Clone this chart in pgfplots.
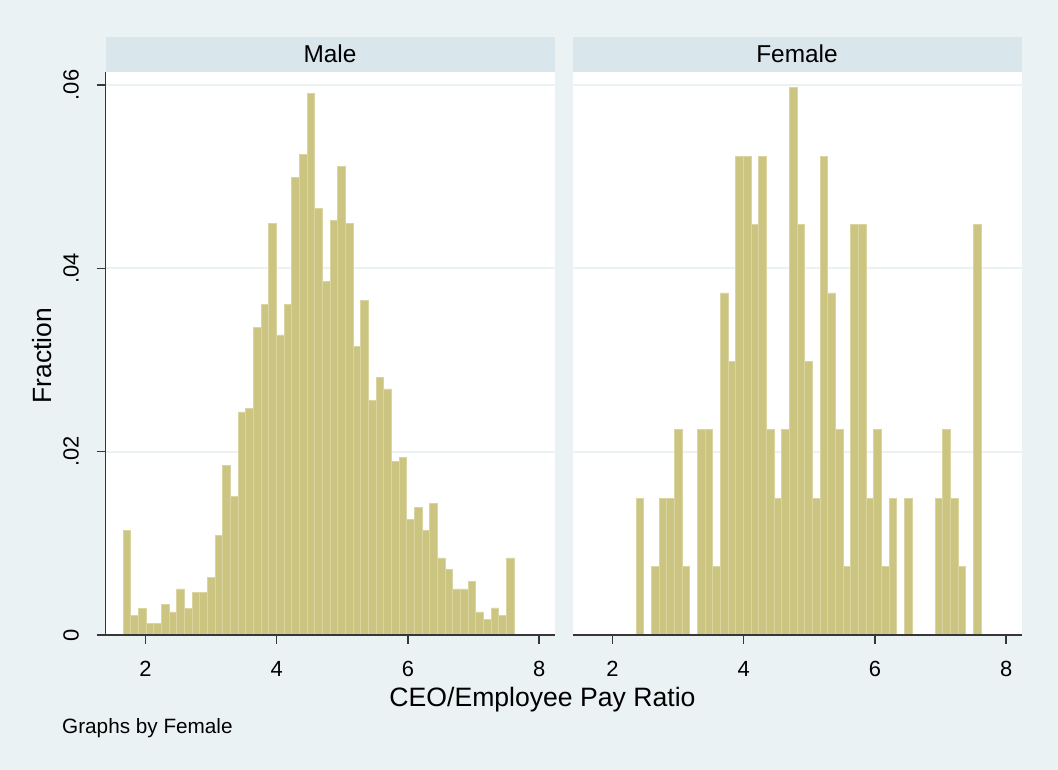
\documentclass[border=0pt]{standalone}
\usepackage{pgfplots}
\pgfplotsset{compat=1.18}
\usepackage{fontspec}
\setmainfont{Liberation Sans}
\definecolor{bgc}{RGB}{234,242,243}
\definecolor{stripc}{RGB}{217,230,235}
\definecolor{barfill}{RGB}{204,197,130}
\definecolor{barline}{RGB}{218,212,160}
\definecolor{axc}{RGB}{55,55,55}

\pgfplotstableread{
x y
1.6600 0.01138
1.7769 0.00210
1.8937 0.00290
2.0106 0.00124
2.1275 0.00124
2.2443 0.00335
2.3612 0.00251
2.4780 0.00502
2.5949 0.00290
2.7118 0.00462
2.8286 0.00462
2.9455 0.00630
3.0624 0.01087
3.1792 0.01847
3.2961 0.01509
3.4129 0.02433
3.5298 0.02476
3.6467 0.03356
3.7635 0.03603
3.8804 0.04487
3.9973 0.03273
4.1141 0.03603
4.2310 0.04989
4.3478 0.05240
4.4647 0.05910
4.5816 0.04654
4.6984 0.03854
4.8153 0.04527
4.9322 0.05116
5.0490 0.04487
5.1659 0.03145
5.2828 0.03647
5.3996 0.02560
5.5165 0.02811
5.6333 0.02684
5.7502 0.01890
5.8671 0.01934
5.9839 0.01258
6.1008 0.01389
6.2177 0.01138
6.3345 0.01432
6.4514 0.00840
6.5682 0.00713
6.6851 0.00502
6.8020 0.00502
6.9188 0.00585
7.0357 0.00251
7.1526 0.00167
7.2694 0.00295
7.3863 0.00210
7.5031 0.00840
7.6200 0
}\maletable

\pgfplotstableread{
x y
1.6600 0
1.7769 0
1.8937 0
2.0106 0
2.1275 0
2.2443 0
2.3612 0.01493
2.4780 0
2.5949 0.00746
2.7118 0.01493
2.8286 0.01493
2.9455 0.02239
3.0624 0.00746
3.1792 0
3.2961 0.02239
3.4129 0.02239
3.5298 0.00746
3.6467 0.03731
3.7635 0.02985
3.8804 0.05224
3.9973 0.05224
4.1141 0.04478
4.2310 0.05224
4.3478 0.02239
4.4647 0.01493
4.5816 0.02239
4.6984 0.05970
4.8153 0.04478
4.9322 0.02985
5.0490 0.01493
5.1659 0.05224
5.2828 0.03731
5.3996 0.02239
5.5165 0.00746
5.6333 0.04478
5.7502 0.04478
5.8671 0.01493
5.9839 0.02239
6.1008 0.00746
6.2177 0.01493
6.3345 0
6.4514 0.01493
6.5682 0
6.6851 0
6.8020 0
6.9188 0.01493
7.0357 0.02239
7.1526 0.01493
7.2694 0.00746
7.3863 0
7.5031 0.04478
7.6200 0
}\femaletable

\pgfplotsset{
  panelbg/.style={scale only axis, width=449bp, height=563bp,
    xmin=1.39, xmax=8.235, ymin=0, ymax=0.06142, anchor=south west,
    scaled ticks=false,
    axis background/.style={fill=white},
    axis line style={draw=none}, tick style={draw=none},
    xtick=\empty, ytick={0,0.02,0.04,0.06}, yticklabels={},
    ymajorgrids, grid style={draw=bgc, line width=2bp}},
  panelfg/.style={scale only axis, width=449bp, height=563bp,
    xmin=1.39, xmax=8.235, ymin=0, ymax=0.06142, anchor=south west,
    scaled ticks=false,
    axis on top, axis x line*=bottom, axis y line*=left,
    axis line style={draw=axc, line width=1.3bp},
    tick style={draw=axc, line width=1.3bp},
    major tick length=9bp, tick align=outside,
    xtick={2,4,6,8},
    /pgf/number format/assume math mode=true,
    xticklabel style={font=\fontsize{22}{22}\selectfont, inner sep=0pt, anchor=base, yshift=-33bp},
    yticklabel style={font=\fontsize{22}{22}\selectfont, inner sep=0pt, xshift=-18bp, rotate=90, anchor=base}},
  bars/.style={ybar interval, fill=barfill, draw=barline, line width=0.8bp}
}

\begin{document}
\begin{tikzpicture}[x=1bp,y=1bp]
\fill[bgc] (0,0) rectangle (1058,770);
% strips
\fill[stripc] (105.5,698) rectangle (554.5,732.7);
\fill[stripc] (572.5,698) rectangle (1021.5,732.7);
\node[anchor=base, inner sep=0pt, font=\fontsize{24.5}{24.5}\selectfont] at (330,707.7) {Male};
\node[anchor=base, inner sep=0pt, font=\fontsize{24.5}{24.5}\selectfont] at (797,707.7) {Female};

% Male panel
\begin{axis}[panelbg, at={(105.5bp,135bp)}]
\end{axis}
\begin{axis}[panelfg, at={(105.5bp,135bp)},
  ytick={0,0.02,0.04,0.06}, yticklabels={0,.02,.04,.06}]
\addplot[bars] table[x=x,y=y] {\maletable};
\end{axis}

% Female panel
\begin{axis}[panelbg, at={(572.5bp,135bp)}]
\end{axis}
\begin{axis}[panelfg, at={(572.5bp,135bp)},
  ytick=\empty, y axis line style={draw=none}]
\addplot[bars] table[x=x,y=y] {\femaletable};
\end{axis}

\node[rotate=90, anchor=base, inner sep=0pt, font=\fontsize{26.5}{26.5}\selectfont] at (51.7,414.2) {Fraction};
\node[anchor=base, inner sep=0pt, font=\fontsize{26.7}{26.7}\selectfont] at (542.5,63) {CEO/Employee Pay Ratio};
\node[anchor=base west, inner sep=0pt, font=\fontsize{20.8}{20.8}\selectfont] at (62,36) {Graphs by Female};

\pgfresetboundingbox
\path[use as bounding box] (0,0) rectangle (1058,770);
\end{tikzpicture}
\end{document}
